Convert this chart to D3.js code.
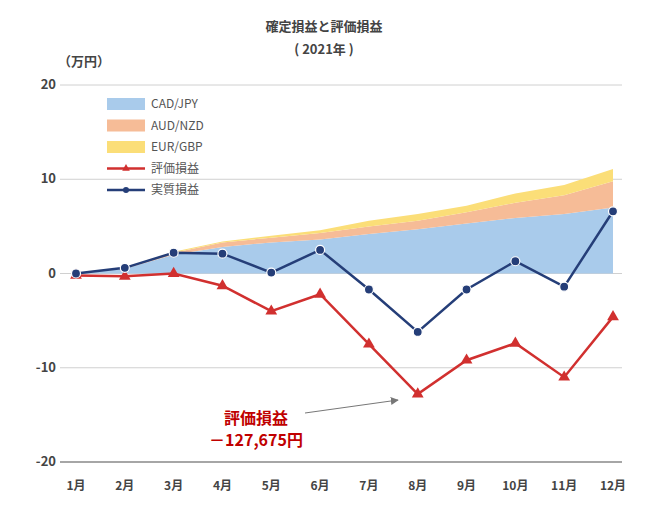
<!DOCTYPE html>
<html><head><meta charset="utf-8">
<script src="https://cdn.jsdelivr.net/npm/d3@7"></script>
<style>body{margin:0;background:#fff;font-family:"Noto Sans CJK JP","Liberation Sans",sans-serif;}</style>
</head><body><svg id="c" width="649" height="531"></svg>
<script>
var months = ["1月","2月","3月","4月","5月","6月","7月","8月","9月","10月","11月","12月"];
var cadJpy = [0,0.5,2.0,2.8,3.3,3.6,4.2,4.7,5.3,5.9,6.3,7.0];
var audNzd = [0,0.1,0.2,0.5,0.5,0.7,0.8,0.9,1.2,1.6,2.0,2.8];
var eurGbp = [0,0,0.1,0.1,0.2,0.3,0.6,0.7,0.7,1.0,1.1,1.3];
var hyoka  = [-0.2,-0.3,0,-1.3,-4.0,-2.2,-7.5,-12.8,-9.2,-7.4,-11.0,-4.6];
var jisshitsu = [0,0.6,2.2,2.1,0.1,2.5,-1.7,-6.2,-1.7,1.3,-1.4,6.6];
var yTicks = [20,10,0,-10,-20];

var svg = d3.select("#c");
var x = d3.scalePoint().domain(months).range([76,613]);
var y = d3.scaleLinear().domain([-20,20]).range([462,85]);

svg.append("text").attr("x",324).attr("y",31).attr("text-anchor","middle")
  .attr("font-size",13).attr("font-weight","bold").attr("fill","#444").text("確定損益と評価損益");
svg.append("text").attr("x",324).attr("y",54).attr("text-anchor","middle")
  .attr("font-size",13).attr("font-weight","bold").attr("fill","#444").text("( 2021年 )");
svg.append("text").attr("x",84).attr("y",66).attr("text-anchor","middle")
  .attr("font-size",13).attr("font-weight","bold").attr("fill","#444").text("（万円）");

// grid
svg.selectAll(".g").data(yTicks).enter().append("line")
  .attr("x1",60).attr("x2",622).attr("y1",d=>y(d)).attr("y2",d=>y(d))
  .attr("stroke",d=>d===-20?"#888":"#d0d0d0").attr("stroke-width",d=>d===-20?1.5:1);
svg.selectAll(".yl").data(yTicks).enter().append("text")
  .attr("x",56).attr("y",d=>y(d)+4).attr("text-anchor","end")
  .attr("font-size",13).attr("font-weight","bold").attr("fill","#444").text(d=>d);
svg.selectAll(".xl").data(months).enter().append("text")
  .attr("x",d=>x(d)).attr("y",490).attr("text-anchor","middle")
  .attr("font-size",12).attr("font-weight","bold").attr("fill","#444").text(d=>d);

// stacked areas
var rows = months.map((m,i)=>({m:m,a:cadJpy[i],b:audNzd[i],c:eurGbp[i]}));
var stack = d3.stack().keys(["a","b","c"])(rows);
var cols = ["#a9cbeb","#f6bc97","#fbde78"];
var area = d3.area().x(d=>x(d.data.m)).y0(d=>y(d[0])).y1(d=>y(d[1]));
svg.selectAll(".ar").data(stack).enter().append("path")
  .attr("d",area).attr("fill",(d,i)=>cols[i]);

// lines
var line = d3.line().x((d,i)=>x(months[i])).y(d=>y(d));
svg.append("path").attr("d",line(hyoka)).attr("fill","none").attr("stroke","#d1302f").attr("stroke-width",2.5);
svg.selectAll(".tri").data(hyoka).enter().append("path")
  .attr("d",d3.symbol().type(d3.symbolTriangle).size(60)())
  .attr("transform",(d,i)=>"translate("+x(months[i])+","+y(d)+")").attr("fill","#d1302f");
svg.append("path").attr("d",line(jisshitsu)).attr("fill","none").attr("stroke","#253e78").attr("stroke-width",2.5);
svg.selectAll(".dot").data(jisshitsu).enter().append("circle")
  .attr("cx",(d,i)=>x(months[i])).attr("cy",d=>y(d)).attr("r",4.5)
  .attr("fill","#253e78").attr("stroke","#fff").attr("stroke-width",1.2);

// legend
var leg = [["CAD/JPY","a",cols[0]],["AUD/NZD","a",cols[1]],["EUR/GBP","a",cols[2]],["評価損益","t","#d1302f"],["実質損益","c","#253e78"]];
leg.forEach(function(l,i){
  var ly = 104+i*21.5;
  if(l[1]==="a") svg.append("rect").attr("x",107).attr("y",ly-6).attr("width",38).attr("height",12).attr("fill",l[2]);
  else {
    svg.append("line").attr("x1",107).attr("x2",145).attr("y1",ly).attr("y2",ly).attr("stroke",l[2]).attr("stroke-width",2.5);
    if(l[1]==="t") svg.append("path").attr("d",d3.symbol().type(d3.symbolTriangle).size(25)()).attr("transform","translate(126,"+ly+")").attr("fill",l[2]);
    else svg.append("circle").attr("cx",126).attr("cy",ly).attr("r",3).attr("fill",l[2]);
  }
  svg.append("text").attr("x",151).attr("y",ly+4).attr("font-size",12).attr("fill","#555").text(l[0]);
});

// annotation
svg.append("defs").append("marker").attr("id","ah").attr("viewBox","0 0 10 10").attr("refX",9).attr("refY",5)
  .attr("markerWidth",8).attr("markerHeight",8).attr("orient","auto")
  .append("path").attr("d","M0,0L10,5L0,10z").attr("fill","#777");
svg.append("line").attr("x1",305).attr("y1",413).attr("x2",398).attr("y2",400)
  .attr("stroke","#777").attr("stroke-width",1).attr("marker-end","url(#ah)");
svg.append("text").attr("x",256).attr("y",424).attr("text-anchor","middle").attr("font-size",16)
  .attr("font-weight","bold").attr("fill","#c00000").text("評価損益");
svg.append("text").attr("x",256).attr("y",446).attr("text-anchor","middle").attr("font-size",16)
  .attr("font-weight","bold").attr("fill","#c00000").text("－127,675円");
</script></body></html>
